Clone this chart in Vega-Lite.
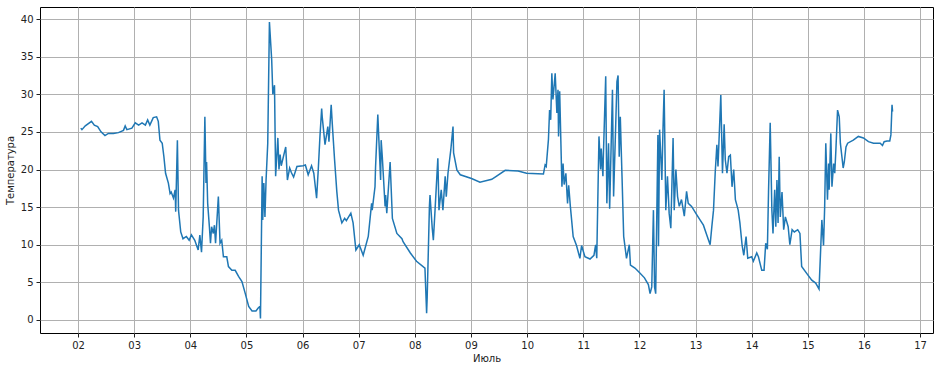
{
  "$schema": "https://vega.github.io/schema/vega-lite/v6.json",
  "width": 893,
  "height": 326,
  "autosize": {"type": "none"},
  "padding": {"left": 40, "top": 7, "right": 6, "bottom": 37},
  "background": "white",
  "config": {
    "view": {"stroke": "black", "strokeWidth": 1},
    "font": "DejaVu Sans",
    "axis": {
      "labelFont": "DejaVu Sans", "titleFont": "DejaVu Sans",
      "labelFontSize": 10, "titleFontSize": 10, "titleFontWeight": "normal",
      "labelColor": "#222", "titleColor": "#222",
      "domain": false, "tickColor": "#222", "tickSize": 4,
      "gridColor": "#b0b0b0", "gridWidth": 1
    }
  },
  "data": {"values": [
    {"t": "2019-07-02T01:12", "v": 25.5},
    {"t": "2019-07-02T01:41", "v": 25.3},
    {"t": "2019-07-02T03:07", "v": 25.8},
    {"t": "2019-07-02T05:46", "v": 26.4},
    {"t": "2019-07-02T06:58", "v": 25.9},
    {"t": "2019-07-02T08:24", "v": 25.7},
    {"t": "2019-07-02T09:50", "v": 25.0},
    {"t": "2019-07-02T11:31", "v": 24.5},
    {"t": "2019-07-02T12:58", "v": 24.8},
    {"t": "2019-07-02T15:07", "v": 24.8},
    {"t": "2019-07-02T17:17", "v": 24.9},
    {"t": "2019-07-02T19:26", "v": 25.2},
    {"t": "2019-07-02T20:10", "v": 25.8},
    {"t": "2019-07-02T20:53", "v": 25.3},
    {"t": "2019-07-02T23:02", "v": 25.5},
    {"t": "2019-07-03T00:29", "v": 26.2},
    {"t": "2019-07-03T01:55", "v": 25.9},
    {"t": "2019-07-03T03:22", "v": 26.2},
    {"t": "2019-07-03T04:48", "v": 25.9},
    {"t": "2019-07-03T05:46", "v": 26.6},
    {"t": "2019-07-03T06:43", "v": 25.9},
    {"t": "2019-07-03T08:10", "v": 26.9},
    {"t": "2019-07-03T09:36", "v": 27.0},
    {"t": "2019-07-03T10:19", "v": 26.4},
    {"t": "2019-07-03T11:02", "v": 23.9},
    {"t": "2019-07-03T12:00", "v": 23.5},
    {"t": "2019-07-03T12:43", "v": 21.7},
    {"t": "2019-07-03T13:26", "v": 19.5},
    {"t": "2019-07-03T14:38", "v": 18.2},
    {"t": "2019-07-03T15:22", "v": 16.8},
    {"t": "2019-07-03T15:50", "v": 17.0},
    {"t": "2019-07-03T16:48", "v": 16.2},
    {"t": "2019-07-03T17:31", "v": 17.3},
    {"t": "2019-07-03T17:46", "v": 14.4},
    {"t": "2019-07-03T18:29", "v": 23.9},
    {"t": "2019-07-03T18:58", "v": 14.6},
    {"t": "2019-07-03T19:55", "v": 11.7},
    {"t": "2019-07-03T20:53", "v": 10.8},
    {"t": "2019-07-03T22:19", "v": 11.1},
    {"t": "2019-07-03T23:31", "v": 10.6},
    {"t": "2019-07-04T00:29", "v": 11.3},
    {"t": "2019-07-04T01:55", "v": 10.6},
    {"t": "2019-07-04T03:22", "v": 9.3},
    {"t": "2019-07-04T04:05", "v": 11.3},
    {"t": "2019-07-04T04:48", "v": 9.0},
    {"t": "2019-07-04T05:31", "v": 13.7},
    {"t": "2019-07-04T06:14", "v": 27.0},
    {"t": "2019-07-04T06:43", "v": 18.2},
    {"t": "2019-07-04T06:58", "v": 21.0},
    {"t": "2019-07-04T07:26", "v": 15.5},
    {"t": "2019-07-04T08:10", "v": 12.4},
    {"t": "2019-07-04T08:38", "v": 10.2},
    {"t": "2019-07-04T09:07", "v": 12.4},
    {"t": "2019-07-04T09:50", "v": 11.5},
    {"t": "2019-07-04T10:19", "v": 12.6},
    {"t": "2019-07-04T10:48", "v": 10.2},
    {"t": "2019-07-04T12:00", "v": 16.4},
    {"t": "2019-07-04T12:43", "v": 10.2},
    {"t": "2019-07-04T13:26", "v": 10.6},
    {"t": "2019-07-04T14:10", "v": 8.4},
    {"t": "2019-07-04T15:36", "v": 8.4},
    {"t": "2019-07-04T16:19", "v": 7.1},
    {"t": "2019-07-04T17:46", "v": 6.6},
    {"t": "2019-07-04T19:12", "v": 6.6},
    {"t": "2019-07-04T20:38", "v": 5.8},
    {"t": "2019-07-04T22:05", "v": 5.1},
    {"t": "2019-07-04T23:31", "v": 3.5},
    {"t": "2019-07-05T00:58", "v": 1.8},
    {"t": "2019-07-05T02:24", "v": 1.2},
    {"t": "2019-07-05T04:05", "v": 1.2},
    {"t": "2019-07-05T05:02", "v": 1.6},
    {"t": "2019-07-05T05:46", "v": 1.8},
    {"t": "2019-07-05T06:00", "v": 0.2},
    {"t": "2019-07-05T06:43", "v": 19.1},
    {"t": "2019-07-05T06:58", "v": 13.3},
    {"t": "2019-07-05T07:26", "v": 18.2},
    {"t": "2019-07-05T07:55", "v": 13.7},
    {"t": "2019-07-05T08:24", "v": 18.6},
    {"t": "2019-07-05T09:07", "v": 23.5},
    {"t": "2019-07-05T09:50", "v": 39.6},
    {"t": "2019-07-05T10:48", "v": 34.6},
    {"t": "2019-07-05T11:17", "v": 30.0},
    {"t": "2019-07-05T12:00", "v": 31.2},
    {"t": "2019-07-05T12:29", "v": 19.1},
    {"t": "2019-07-05T13:26", "v": 24.2},
    {"t": "2019-07-05T13:55", "v": 20.0},
    {"t": "2019-07-05T14:24", "v": 22.0},
    {"t": "2019-07-05T14:53", "v": 20.5},
    {"t": "2019-07-05T16:48", "v": 23.0},
    {"t": "2019-07-05T17:31", "v": 18.6},
    {"t": "2019-07-05T18:29", "v": 20.2},
    {"t": "2019-07-05T19:12", "v": 19.6},
    {"t": "2019-07-05T20:10", "v": 19.0},
    {"t": "2019-07-05T21:36", "v": 20.4},
    {"t": "2019-07-06T00:14", "v": 20.5},
    {"t": "2019-07-06T01:12", "v": 20.6},
    {"t": "2019-07-06T02:24", "v": 19.3},
    {"t": "2019-07-06T03:50", "v": 20.5},
    {"t": "2019-07-06T04:48", "v": 19.5},
    {"t": "2019-07-06T06:00", "v": 16.2},
    {"t": "2019-07-06T06:43", "v": 20.0},
    {"t": "2019-07-06T07:26", "v": 24.4},
    {"t": "2019-07-06T08:10", "v": 28.1},
    {"t": "2019-07-06T08:24", "v": 27.0},
    {"t": "2019-07-06T09:36", "v": 23.3},
    {"t": "2019-07-06T10:48", "v": 25.7},
    {"t": "2019-07-06T11:17", "v": 23.7},
    {"t": "2019-07-06T12:14", "v": 28.6},
    {"t": "2019-07-06T12:43", "v": 26.0},
    {"t": "2019-07-06T13:41", "v": 21.3},
    {"t": "2019-07-06T14:38", "v": 17.1},
    {"t": "2019-07-06T15:22", "v": 14.6},
    {"t": "2019-07-06T16:48", "v": 12.9},
    {"t": "2019-07-06T18:00", "v": 13.5},
    {"t": "2019-07-06T18:43", "v": 13.2},
    {"t": "2019-07-06T20:38", "v": 14.2},
    {"t": "2019-07-06T21:36", "v": 12.9},
    {"t": "2019-07-06T22:48", "v": 9.3},
    {"t": "2019-07-07T00:14", "v": 10.0},
    {"t": "2019-07-07T01:55", "v": 8.6},
    {"t": "2019-07-07T04:05", "v": 11.1},
    {"t": "2019-07-07T05:31", "v": 15.5},
    {"t": "2019-07-07T05:46", "v": 14.6},
    {"t": "2019-07-07T06:58", "v": 17.7},
    {"t": "2019-07-07T07:12", "v": 20.3},
    {"t": "2019-07-07T08:10", "v": 27.3},
    {"t": "2019-07-07T08:38", "v": 23.9},
    {"t": "2019-07-07T09:22", "v": 18.6},
    {"t": "2019-07-07T09:36", "v": 23.9},
    {"t": "2019-07-07T10:05", "v": 21.7},
    {"t": "2019-07-07T11:17", "v": 15.1},
    {"t": "2019-07-07T11:31", "v": 16.6},
    {"t": "2019-07-07T12:00", "v": 14.2},
    {"t": "2019-07-07T13:26", "v": 21.0},
    {"t": "2019-07-07T14:24", "v": 13.5},
    {"t": "2019-07-07T16:19", "v": 11.5},
    {"t": "2019-07-07T18:29", "v": 10.8},
    {"t": "2019-07-07T18:58", "v": 10.4},
    {"t": "2019-07-07T22:05", "v": 8.9},
    {"t": "2019-07-08T00:43", "v": 7.8},
    {"t": "2019-07-08T04:19", "v": 6.9},
    {"t": "2019-07-08T05:02", "v": 0.9},
    {"t": "2019-07-08T05:17", "v": 3.1},
    {"t": "2019-07-08T06:14", "v": 15.1},
    {"t": "2019-07-08T06:29", "v": 16.6},
    {"t": "2019-07-08T07:26", "v": 12.2},
    {"t": "2019-07-08T07:55", "v": 10.6},
    {"t": "2019-07-08T08:38", "v": 14.6},
    {"t": "2019-07-08T09:50", "v": 21.5},
    {"t": "2019-07-08T10:19", "v": 14.6},
    {"t": "2019-07-08T11:17", "v": 17.3},
    {"t": "2019-07-08T12:00", "v": 14.6},
    {"t": "2019-07-08T12:58", "v": 19.1},
    {"t": "2019-07-08T13:26", "v": 16.4},
    {"t": "2019-07-08T14:10", "v": 19.5},
    {"t": "2019-07-08T15:22", "v": 22.6},
    {"t": "2019-07-08T16:19", "v": 25.7},
    {"t": "2019-07-08T16:34", "v": 22.2},
    {"t": "2019-07-08T18:00", "v": 19.9},
    {"t": "2019-07-08T19:26", "v": 19.3},
    {"t": "2019-07-09T00:14", "v": 18.8},
    {"t": "2019-07-09T03:50", "v": 18.3},
    {"t": "2019-07-09T08:53", "v": 18.7},
    {"t": "2019-07-09T10:48", "v": 19.1},
    {"t": "2019-07-09T14:38", "v": 19.9},
    {"t": "2019-07-09T20:10", "v": 19.8},
    {"t": "2019-07-09T23:46", "v": 19.5},
    {"t": "2019-07-10T06:58", "v": 19.4},
    {"t": "2019-07-10T07:41", "v": 20.6},
    {"t": "2019-07-10T08:10", "v": 20.4},
    {"t": "2019-07-10T09:07", "v": 24.0},
    {"t": "2019-07-10T09:36", "v": 27.9},
    {"t": "2019-07-10T10:05", "v": 26.6},
    {"t": "2019-07-10T10:34", "v": 32.8},
    {"t": "2019-07-10T11:02", "v": 29.3},
    {"t": "2019-07-10T11:31", "v": 31.0},
    {"t": "2019-07-10T12:00", "v": 32.8},
    {"t": "2019-07-10T12:43", "v": 27.5},
    {"t": "2019-07-10T13:12", "v": 30.6},
    {"t": "2019-07-10T13:26", "v": 24.4},
    {"t": "2019-07-10T13:55", "v": 30.4},
    {"t": "2019-07-10T14:53", "v": 17.7},
    {"t": "2019-07-10T15:22", "v": 20.8},
    {"t": "2019-07-10T15:50", "v": 18.0},
    {"t": "2019-07-10T16:34", "v": 19.5},
    {"t": "2019-07-10T17:17", "v": 15.5},
    {"t": "2019-07-10T17:46", "v": 17.9},
    {"t": "2019-07-10T18:29", "v": 15.1},
    {"t": "2019-07-10T19:41", "v": 11.1},
    {"t": "2019-07-10T21:07", "v": 9.9},
    {"t": "2019-07-10T22:34", "v": 8.2},
    {"t": "2019-07-10T23:17", "v": 9.9},
    {"t": "2019-07-11T00:43", "v": 8.4},
    {"t": "2019-07-11T02:53", "v": 8.1},
    {"t": "2019-07-11T04:34", "v": 8.6},
    {"t": "2019-07-11T05:17", "v": 10.0},
    {"t": "2019-07-11T05:46", "v": 8.2},
    {"t": "2019-07-11T06:43", "v": 24.4},
    {"t": "2019-07-11T07:26", "v": 20.0},
    {"t": "2019-07-11T07:41", "v": 22.8},
    {"t": "2019-07-11T08:24", "v": 19.1},
    {"t": "2019-07-11T08:38", "v": 22.2},
    {"t": "2019-07-11T09:36", "v": 32.4},
    {"t": "2019-07-11T10:05", "v": 15.5},
    {"t": "2019-07-11T10:48", "v": 23.5},
    {"t": "2019-07-11T11:17", "v": 14.8},
    {"t": "2019-07-11T12:29", "v": 30.6},
    {"t": "2019-07-11T12:58", "v": 16.4},
    {"t": "2019-07-11T13:41", "v": 23.9},
    {"t": "2019-07-11T14:24", "v": 31.7},
    {"t": "2019-07-11T14:53", "v": 32.5},
    {"t": "2019-07-11T15:22", "v": 21.7},
    {"t": "2019-07-11T15:50", "v": 27.0},
    {"t": "2019-07-11T16:34", "v": 19.1},
    {"t": "2019-07-11T17:17", "v": 11.1},
    {"t": "2019-07-11T18:29", "v": 8.2},
    {"t": "2019-07-11T19:41", "v": 10.0},
    {"t": "2019-07-11T20:10", "v": 7.3},
    {"t": "2019-07-11T22:05", "v": 6.9},
    {"t": "2019-07-12T00:00", "v": 6.3},
    {"t": "2019-07-12T02:10", "v": 5.6},
    {"t": "2019-07-12T03:50", "v": 4.7},
    {"t": "2019-07-12T04:34", "v": 3.5},
    {"t": "2019-07-12T05:17", "v": 4.4},
    {"t": "2019-07-12T06:00", "v": 14.6},
    {"t": "2019-07-12T06:29", "v": 4.4},
    {"t": "2019-07-12T06:58", "v": 3.5},
    {"t": "2019-07-12T07:55", "v": 24.6},
    {"t": "2019-07-12T08:10", "v": 9.8},
    {"t": "2019-07-12T08:38", "v": 25.3},
    {"t": "2019-07-12T09:36", "v": 18.6},
    {"t": "2019-07-12T10:05", "v": 25.3},
    {"t": "2019-07-12T10:34", "v": 30.6},
    {"t": "2019-07-12T11:17", "v": 14.6},
    {"t": "2019-07-12T12:00", "v": 19.1},
    {"t": "2019-07-12T12:43", "v": 14.2},
    {"t": "2019-07-12T13:26", "v": 12.2},
    {"t": "2019-07-12T14:24", "v": 24.2},
    {"t": "2019-07-12T14:53", "v": 14.6},
    {"t": "2019-07-12T15:36", "v": 20.0},
    {"t": "2019-07-12T16:19", "v": 16.4},
    {"t": "2019-07-12T17:02", "v": 15.1},
    {"t": "2019-07-12T18:00", "v": 16.0},
    {"t": "2019-07-12T19:12", "v": 13.8},
    {"t": "2019-07-12T20:10", "v": 17.1},
    {"t": "2019-07-12T20:53", "v": 15.5},
    {"t": "2019-07-12T22:19", "v": 15.1},
    {"t": "2019-07-13T00:29", "v": 14.0},
    {"t": "2019-07-13T01:55", "v": 13.3},
    {"t": "2019-07-13T03:22", "v": 12.6},
    {"t": "2019-07-13T04:48", "v": 11.3},
    {"t": "2019-07-13T06:14", "v": 10.0},
    {"t": "2019-07-13T06:58", "v": 12.4},
    {"t": "2019-07-13T07:41", "v": 14.6},
    {"t": "2019-07-13T08:24", "v": 19.5},
    {"t": "2019-07-13T09:07", "v": 23.3},
    {"t": "2019-07-13T09:36", "v": 20.4},
    {"t": "2019-07-13T10:48", "v": 29.9},
    {"t": "2019-07-13T11:31", "v": 19.5},
    {"t": "2019-07-13T12:14", "v": 26.0},
    {"t": "2019-07-13T12:43", "v": 21.3},
    {"t": "2019-07-13T13:26", "v": 19.5},
    {"t": "2019-07-13T14:10", "v": 21.7},
    {"t": "2019-07-13T14:53", "v": 21.9},
    {"t": "2019-07-13T15:36", "v": 17.7},
    {"t": "2019-07-13T16:19", "v": 20.0},
    {"t": "2019-07-13T17:02", "v": 16.0},
    {"t": "2019-07-13T18:14", "v": 14.6},
    {"t": "2019-07-13T18:58", "v": 12.9},
    {"t": "2019-07-13T19:55", "v": 9.9},
    {"t": "2019-07-13T20:38", "v": 8.6},
    {"t": "2019-07-13T21:36", "v": 11.1},
    {"t": "2019-07-13T22:19", "v": 8.2},
    {"t": "2019-07-14T00:00", "v": 8.4},
    {"t": "2019-07-14T00:43", "v": 7.8},
    {"t": "2019-07-14T02:10", "v": 8.9},
    {"t": "2019-07-14T02:53", "v": 8.4},
    {"t": "2019-07-14T04:19", "v": 6.6},
    {"t": "2019-07-14T05:17", "v": 6.6},
    {"t": "2019-07-14T06:00", "v": 10.2},
    {"t": "2019-07-14T06:43", "v": 9.4},
    {"t": "2019-07-14T07:12", "v": 17.0},
    {"t": "2019-07-14T07:55", "v": 26.2},
    {"t": "2019-07-14T08:38", "v": 14.6},
    {"t": "2019-07-14T09:07", "v": 11.5},
    {"t": "2019-07-14T09:50", "v": 17.3},
    {"t": "2019-07-14T10:19", "v": 12.4},
    {"t": "2019-07-14T10:48", "v": 18.6},
    {"t": "2019-07-14T11:17", "v": 12.9},
    {"t": "2019-07-14T11:46", "v": 21.7},
    {"t": "2019-07-14T12:14", "v": 13.7},
    {"t": "2019-07-14T12:58", "v": 17.0},
    {"t": "2019-07-14T13:41", "v": 12.0},
    {"t": "2019-07-14T14:24", "v": 13.7},
    {"t": "2019-07-14T15:36", "v": 12.4},
    {"t": "2019-07-14T16:19", "v": 10.0},
    {"t": "2019-07-14T17:17", "v": 12.0},
    {"t": "2019-07-14T18:14", "v": 11.7},
    {"t": "2019-07-14T19:41", "v": 12.0},
    {"t": "2019-07-14T20:38", "v": 11.5},
    {"t": "2019-07-14T21:22", "v": 7.1},
    {"t": "2019-07-14T23:31", "v": 6.2},
    {"t": "2019-07-15T01:41", "v": 5.3},
    {"t": "2019-07-15T03:22", "v": 4.9},
    {"t": "2019-07-15T04:48", "v": 4.1},
    {"t": "2019-07-15T06:00", "v": 13.3},
    {"t": "2019-07-15T06:43", "v": 9.9},
    {"t": "2019-07-15T07:12", "v": 15.0},
    {"t": "2019-07-15T07:41", "v": 23.5},
    {"t": "2019-07-15T08:24", "v": 16.0},
    {"t": "2019-07-15T08:53", "v": 20.8},
    {"t": "2019-07-15T09:07", "v": 17.3},
    {"t": "2019-07-15T09:50", "v": 24.8},
    {"t": "2019-07-15T10:19", "v": 17.7},
    {"t": "2019-07-15T11:02", "v": 20.8},
    {"t": "2019-07-15T11:31", "v": 19.5},
    {"t": "2019-07-15T12:00", "v": 22.6},
    {"t": "2019-07-15T12:43", "v": 27.9},
    {"t": "2019-07-15T13:26", "v": 27.0},
    {"t": "2019-07-15T13:55", "v": 23.5},
    {"t": "2019-07-15T15:07", "v": 20.2},
    {"t": "2019-07-15T15:36", "v": 21.0},
    {"t": "2019-07-15T16:19", "v": 23.0},
    {"t": "2019-07-15T17:02", "v": 23.5},
    {"t": "2019-07-15T19:26", "v": 23.9},
    {"t": "2019-07-15T21:36", "v": 24.4},
    {"t": "2019-07-15T23:46", "v": 24.2},
    {"t": "2019-07-16T01:55", "v": 23.7},
    {"t": "2019-07-16T04:05", "v": 23.5},
    {"t": "2019-07-16T06:58", "v": 23.5},
    {"t": "2019-07-16T07:55", "v": 23.2},
    {"t": "2019-07-16T08:38", "v": 23.7},
    {"t": "2019-07-16T09:50", "v": 23.8},
    {"t": "2019-07-16T11:02", "v": 23.8},
    {"t": "2019-07-16T11:31", "v": 24.6},
    {"t": "2019-07-16T12:00", "v": 28.6},
    {"t": "2019-07-16T12:14", "v": 27.7}
  ]},
  "mark": {"type": "line", "color": "#1f77b4", "strokeWidth": 1.5, "clip": true},
  "encoding": {
    "x": {
      "field": "t", "type": "temporal", "title": "Июль",
      "scale": {"domain": [
        {"year": 2019, "month": 7, "date": 1, "hours": 7, "minutes": 45},
        {"year": 2019, "month": 7, "date": 17, "hours": 5, "minutes": 31}
      ], "nice": false},
      "axis": {
        "format": "%d", "labelPadding": 3, "titlePadding": 3,
        "values": [
          {"year": 2019, "month": 7, "date": 2}, {"year": 2019, "month": 7, "date": 3},
          {"year": 2019, "month": 7, "date": 4}, {"year": 2019, "month": 7, "date": 5},
          {"year": 2019, "month": 7, "date": 6}, {"year": 2019, "month": 7, "date": 7},
          {"year": 2019, "month": 7, "date": 8}, {"year": 2019, "month": 7, "date": 9},
          {"year": 2019, "month": 7, "date": 10}, {"year": 2019, "month": 7, "date": 11},
          {"year": 2019, "month": 7, "date": 12}, {"year": 2019, "month": 7, "date": 13},
          {"year": 2019, "month": 7, "date": 14}, {"year": 2019, "month": 7, "date": 15},
          {"year": 2019, "month": 7, "date": 16}, {"year": 2019, "month": 7, "date": 17}
        ],
        "labelFlush": false, "labelOverlap": false
      }
    },
    "y": {
      "field": "v", "type": "quantitative", "title": "Температура",
      "scale": {"domain": [-1.73, 41.6], "nice": false, "zero": false},
      "axis": {"values": [0, 5, 10, 15, 20, 25, 30, 35, 40], "labelPadding": 3, "titlePadding": 5, "labelFlush": false}
    }
  }
}
